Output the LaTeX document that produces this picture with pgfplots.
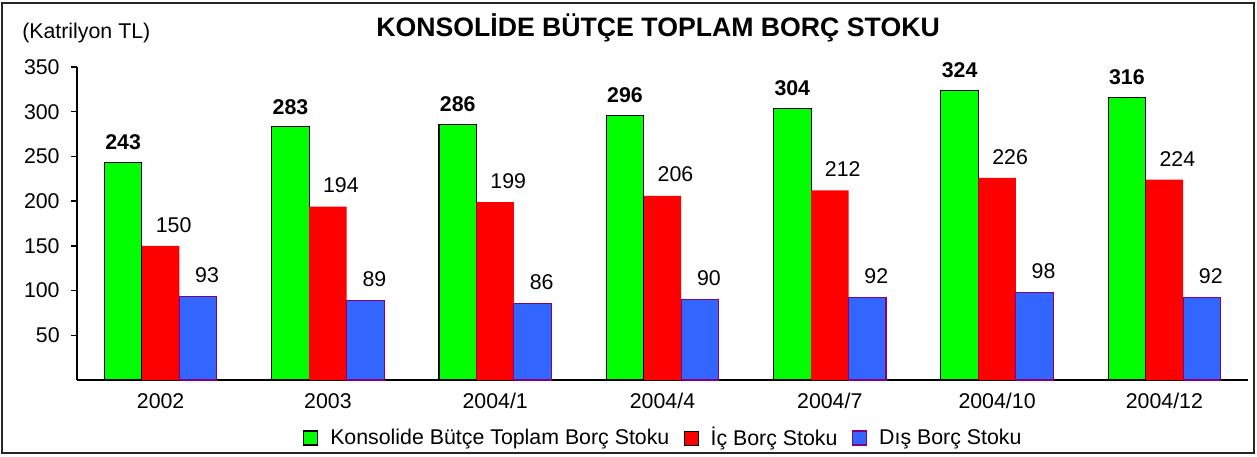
\documentclass[border=0pt]{standalone}
\usepackage{fontspec}
\setmainfont{Liberation Sans}
\usepackage{pgfplots}
\pgfplotsset{compat=1.18}
\definecolor{bargreen}{RGB}{0,255,0}
\definecolor{barred}{RGB}{255,0,0}
\definecolor{barblue}{RGB}{51,102,255}
\definecolor{barpurple}{RGB}{128,0,128}
\begin{document}
\fontsize{16}{19}\selectfont
\begin{tikzpicture}
\useasboundingbox (-57.75pt,-57.75pt) rectangle (885pt,285pt);
\draw[line width=1.2pt, black!85] (-56.25pt,-54.75pt) rectangle (882.75pt,282.75pt);
\begin{axis}[
  at={(0,0)}, anchor=south west,
  scale only axis, width=878.25pt, height=234.75pt,
  xmin=-0.5, xmax=6.5, ymin=0, ymax=350,
  axis x line=bottom, axis y line=left,
  axis line style={-, line width=1pt},
  ybar=0pt, bar width=28.1pt,
  xtick={0,...,6},
  xticklabels={2002,2003,2004/1,2004/4,2004/7,2004/10,2004/12},
  major x tick style={draw=none},
  extra x ticks={-0.5,0.5,1.5,2.5,3.5,4.5,5.5,6.5},
  extra x tick labels={},
  extra x tick style={major tick length=6pt, tick style={line width=1pt, black}},
  ytick={50,100,...,350},
  y tick style={line width=1pt, black},
  tick align=outside, major tick length=4.5pt,
  /pgf/number format/assume math mode=true,
  tick label style={font=\fontsize{16}{19}\selectfont},
  yticklabel style={xshift=-3pt},
  every node near coord/.append style={anchor=south, inner sep=0pt,
    font=\fontsize{16}{19}\selectfont},
  legend image code/.code={\draw[#1] (0pt,-5.25pt) rectangle (10.5pt,5.25pt);},
  legend style={at={(0.501,0)}, anchor=center, yshift=-43.5pt, draw=none, fill=none,
    font=\fontsize{16}{19}\selectfont, legend columns=-1,
    /tikz/every odd column/.append style={column sep=7pt},
    /tikz/every even column/.append style={column sep=9pt}},
]
% konsolide toplam
\addplot[fill=bargreen, draw=black, line width=0.8pt, nodes near coords,
  every node near coord/.append style={yshift=9pt, font=\fontsize{16}{19}\selectfont\bfseries}]
  coordinates {(0,243) (1,283) (2,286) (3,296) (4,304) (5,324) (6,316)};
\addlegendentry{Konsolide Bütçe Toplam Borç Stoku}
% ic borc
\addplot[fill=barred, draw=none, nodes near coords,
  every node near coord/.append style={yshift=10pt, xshift=9.75pt}]
  coordinates {(0,150) (1,194) (2,199) (3,206) (4,212) (5,226) (6,224)};
\addlegendentry{İç Borç Stoku}
% dis borc
\addplot[fill=barblue, draw=barpurple, line width=0.8pt, nodes near coords,
  every node near coord/.append style={yshift=10pt, xshift=6.75pt}]
  coordinates {(0,93) (1,89) (2,86) (3,90) (4,92) (5,98) (6,92)};
\addlegendentry{Dış Borç Stoku}
\end{axis}
\node[font=\fontsize{20}{24}\selectfont\bfseries] at (435.75pt,264pt) {KONSOLİDE BÜTÇE TOPLAM BORÇ STOKU};
\node[anchor=west, inner sep=0pt] at (-41.25pt,260.25pt) {(Katrilyon TL)};
\end{tikzpicture}
\end{document}
